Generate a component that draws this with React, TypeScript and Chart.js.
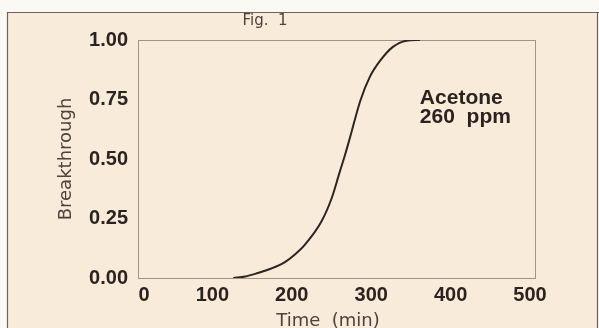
import React, { useEffect, useRef } from 'react';
import { Chart, registerables } from 'chart.js';

Chart.register(...registerables);

// ---- data ----
const timeMin = [120, 135, 151, 168, 185, 198, 210, 231, 244, 254, 261, 267, 280, 292, 305, 321, 338, 355];
const breakthrough = [0, 0.006, 0.021, 0.04, 0.067, 0.1, 0.139, 0.237, 0.336, 0.445, 0.52, 0.59, 0.745, 0.845, 0.913, 0.971, 0.997, 1.0];
const xTickValues = [0, 100, 200, 300, 400, 500];
const yTickValues = [0, 0.25, 0.5, 0.75, 1];
const figTitle = 'Fig.  1';
const xTitle = 'Time  (min)';
const yTitle = 'Breakthrough';
const annotationLines = ['Acetone', '260  ppm'];
const annotationAt = { x: 355, y: 0.73 };

const BEIGE = '#f8ebd9';
const DARK = '#2b2320';
const SOFT = '#4d433d';

const decor = {
  id: 'decor',
  beforeDraw(chart: any) {
    const { ctx, width, height, chartArea: a } = chart;
    ctx.save();
    ctx.fillStyle = '#fbf9f4';
    ctx.fillRect(0, 0, width, height);
    ctx.fillStyle = BEIGE;
    ctx.fillRect(8, 12.5, width - 9, height);
    ctx.strokeStyle = '#6b635c';
    ctx.lineWidth = 1.2;
    ctx.beginPath();
    ctx.moveTo(7.5, height);
    ctx.lineTo(7.5, 12.5);
    ctx.lineTo(width, 12.5);
    ctx.moveTo(597.5, 12.5);
    ctx.lineTo(597.5, height);
    ctx.stroke();
    ctx.strokeStyle = '#a39483';
    ctx.lineWidth = 1;
    ctx.strokeRect(Math.round(a.left) + 0.5, Math.round(a.top) + 0.5, Math.round(a.right - a.left), Math.round(a.bottom - a.top));
    ctx.restore();
  },
  afterDraw(chart: any) {
    const { ctx, scales } = chart;
    ctx.save();
    // figure caption
    ctx.fillStyle = SOFT;
    ctx.font = '15px "DejaVu Sans"';
    ctx.textAlign = 'center';
    ctx.textBaseline = 'alphabetic';
    ctx.fillText(figTitle, 265, 25);
    // x axis title
    ctx.font = '18px "DejaVu Sans"';
    ctx.fillText(xTitle, 328, 326);
    // annotation
    ctx.fillStyle = DARK;
    ctx.font = 'bold 21px "Liberation Sans"';
    ctx.textAlign = 'left';
    const ax = scales.x.getPixelForValue(annotationAt.x);
    const ay = scales.y.getPixelForValue(annotationAt.y);
    annotationLines.forEach((line, i) => ctx.fillText(line, ax, ay + i * 19));
    ctx.restore();
  },
};

export default function App() {
  const ref = useRef<HTMLCanvasElement>(null);
  useEffect(() => {
    document.body.style.margin = '0';
    const tickFont = { family: 'Liberation Sans', weight: 'bold' as const, size: 20 };
    const chart = new Chart(ref.current!, {
      type: 'line',
      data: {
        datasets: [
          {
            data: timeMin.map((t, i) => ({ x: t, y: breakthrough[i] })),
            borderColor: '#2d2522',
            borderWidth: 2,
            pointRadius: 0,
            fill: false,
            cubicInterpolationMode: 'monotone',
          },
        ],
      },
      options: {
        responsive: false,
        animation: false,
        devicePixelRatio: 1,
        layout: { padding: { left: 0, top: 40, right: 64, bottom: 0 } },
        plugins: { legend: { display: false }, tooltip: { enabled: false }, title: { display: false } },
        scales: {
          x: {
            type: 'linear',
            min: 0,
            max: 500,
            afterBuildTicks: (s: any) => {
              s.ticks = xTickValues.map((v) => ({ value: v }));
            },
            afterFit: (s: any) => {
              s.height = 50;
            },
            grid: { display: false, drawTicks: false },
            border: { display: false },
            ticks: {
              font: tickFont,
              color: DARK,
              padding: 5,
              labelOffset: -5,
              autoSkip: false,
              maxRotation: 0,
              callback: (v: any) => (Number(v) === 0 ? '\u2007\u20070' : String(v)),
            },
          },
          y: {
            type: 'linear',
            min: 0,
            max: 1,
            afterBuildTicks: (s: any) => {
              s.ticks = yTickValues.map((v) => ({ value: v }));
            },
            afterFit: (s: any) => {
              s.width = 138;
            },
            grid: { display: false, drawTicks: false },
            border: { display: false },
            ticks: {
              font: tickFont,
              color: DARK,
              padding: 10,
              autoSkip: false,
              callback: (v: any) => Number(v).toFixed(2),
            },
            title: {
              display: true,
              text: yTitle,
              color: SOFT,
              font: { family: 'DejaVu Sans', size: 18, lineHeight: 1 },
              padding: { top: 57, bottom: 0 },
            },
          },
        },
      },
      plugins: [decor],
    } as any);
    return () => chart.destroy();
  }, []);
  return (
    <div style={{ width: 599, height: 328 }}>
      <canvas ref={ref} width={599} height={328} style={{ display: 'block' }} />
    </div>
  );
}
